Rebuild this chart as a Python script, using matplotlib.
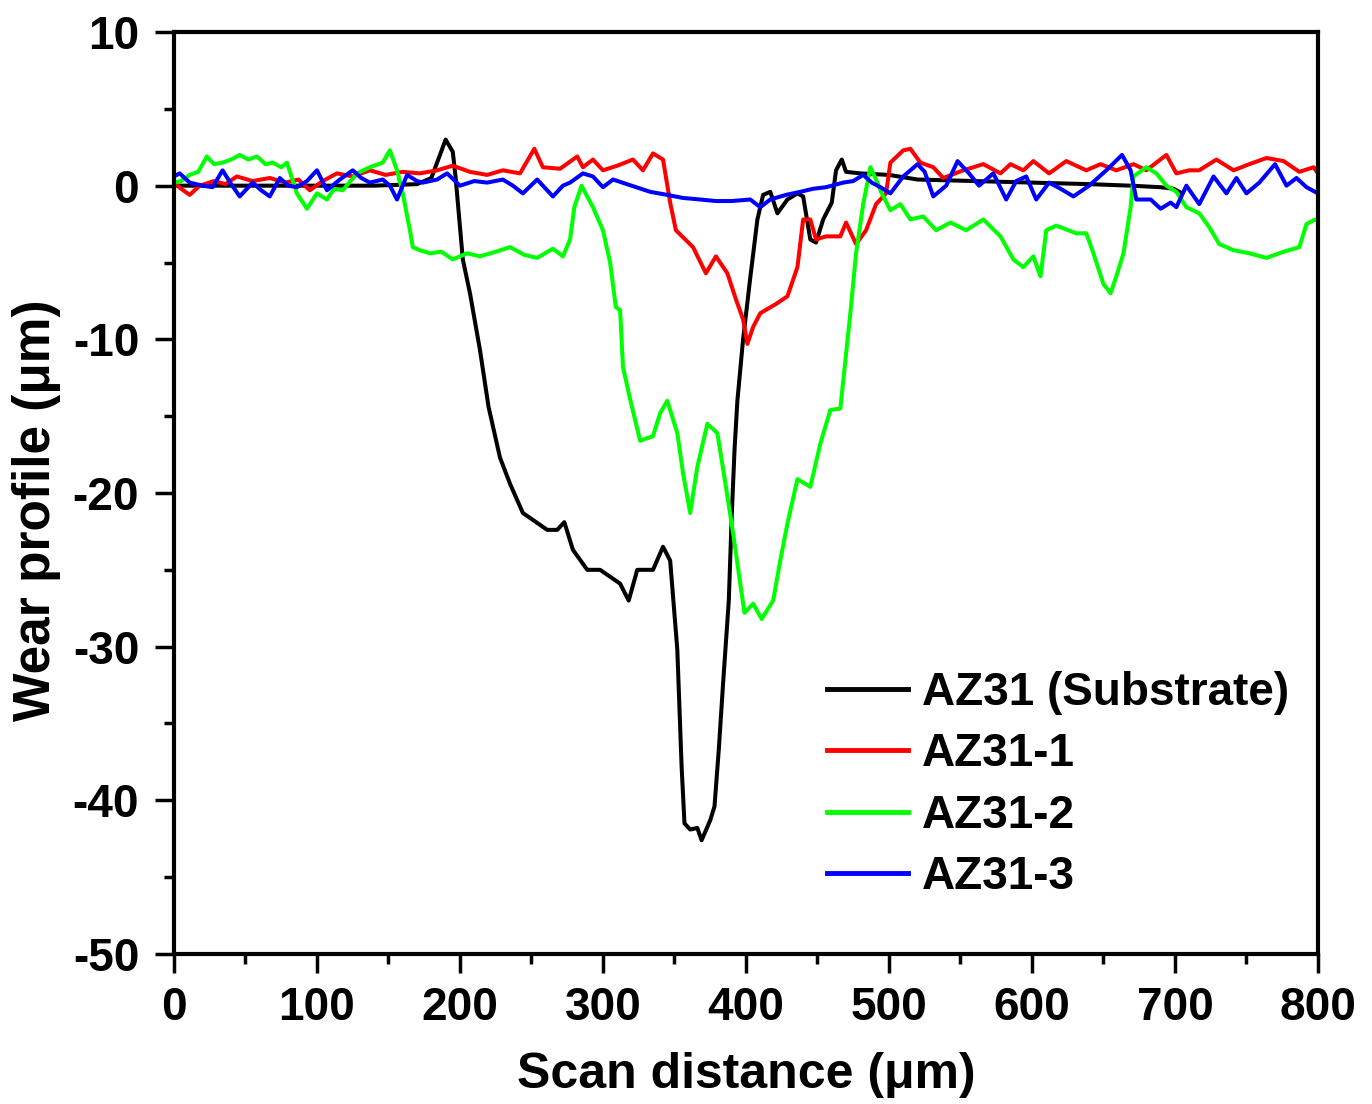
import matplotlib.pyplot as plt
import numpy
from matplotlib.ticker import MultipleLocator

# AZ31 (Substrate)
sub_x = [0, 20, 50, 80, 110, 140, 170, 180, 186, 190, 195, 197, 202, 207, 214, 220, 228, 235,
         244, 261, 268, 273, 279, 289, 298, 312, 318, 324, 335, 342, 347, 352, 355, 357, 361,
         366, 369, 375, 378, 381, 384, 388, 390, 392, 394, 398, 403, 408, 412, 417, 422, 429,
         436, 440, 445, 449, 454, 460, 463, 467, 470, 480, 500, 520, 560, 600, 640, 669, 690,
         699, 705]
sub_y = [0, 0, 0, 0, 0, 0, 0.1, 0.5, 2.0, 3.0, 2.2, 0.5, -4.8, -7.0, -10.7, -14.4, -17.7, -19.4,
         -21.3, -22.4, -22.4, -21.9, -23.7, -25.0, -25.0, -25.9, -27.0, -25.0, -25.0, -23.5, -24.4,
         -30.2, -37.8, -41.5, -41.9, -41.8, -42.6, -41.3, -40.4, -36.7, -32.4, -27.0, -21.6, -17.2,
         -14.0, -10.0, -6.0, -2.2, -0.6, -0.4, -1.8, -0.9, -0.5, -0.7, -3.5, -3.7, -2.2, -1.1, 1.0,
         1.7, 0.9, 0.8, 0.7, 0.4, 0.3, 0.2, 0.1, 0.0, -0.1, -0.2, -0.5]

# AZ31-1
az1_x = [0, 5, 11, 18, 28, 36, 44, 55, 67, 78, 87, 95, 104, 114, 125, 137, 148, 160, 172, 184,
         195, 207, 219, 230, 242, 252, 258, 270, 282, 286, 293, 300, 310, 321, 328, 335, 342, 347,
         351, 363, 372, 379, 387, 393, 398, 401, 405, 410, 421, 429, 436, 440, 445, 449, 456, 466,
         470, 477, 484, 491, 498, 501, 510, 515, 522, 531, 538, 552, 566, 578, 585, 594, 601, 612,
         624, 638, 648, 659, 671, 680, 694, 701, 710, 717, 729, 741, 752, 764, 776, 787, 797, 800]
az1_y = [0.2, -0.2, -0.6, 0.0, 0.3, 0.1, 0.6, 0.3, 0.5, 0.2, 0.4, -0.3, 0.3, 0.8, 0.6, 1.0, 0.7,
         0.9, 0.8, 1.0, 1.3, 0.9, 0.7, 1.0, 0.8, 2.4, 1.2, 1.1, 1.9, 1.2, 1.7, 1.0, 1.3, 1.7, 1.0,
         2.1, 1.7, -1.1, -2.9, -4.0, -5.7, -4.6, -5.7, -7.4, -8.7, -10.3, -9.2, -8.3, -7.7, -7.2,
         -5.3, -2.2, -2.2, -3.5, -3.3, -3.3, -2.4, -3.8, -2.9, -1.2, -0.5, 1.5, 2.3, 2.4, 1.5, 1.2,
         0.5, 1.0, 1.4, 0.8, 1.4, 1.0, 1.6, 0.8, 1.6, 1.0, 1.4, 1.0, 1.4, 1.0, 2.0, 0.8, 1.0, 1.0,
         1.7, 1.0, 1.4, 1.8, 1.6, 0.9, 1.2, 0.8]

# AZ31-2
az2_x = [0, 5, 11, 17, 23, 28, 34, 40, 46, 52, 58, 64, 69, 75, 79, 86, 93, 100, 107, 112, 118,
         128, 137, 146, 151, 156, 160, 165, 167, 172, 179, 187, 195, 205, 214, 225, 235, 245, 254,
         265, 272, 277, 280, 285, 293, 300, 305, 309, 312, 314, 319, 326, 335, 340, 345, 352, 356,
         361, 366, 373, 380, 385, 391, 396, 399, 405, 411, 419, 424, 429, 436, 445, 452, 459, 466,
         473, 477, 482, 487, 491, 495, 501, 508, 515, 524, 533, 543, 554, 566, 578, 587, 594, 601,
         606, 610, 617, 631, 638, 643, 650, 655, 659, 664, 669, 671, 680, 687, 694, 701, 708, 717,
         724, 731, 741, 752, 764, 776, 787, 792, 798, 800]
az2_y = [0.2, 0.3, 0.7, 0.9, 1.9, 1.4, 1.5, 1.7, 2.0, 1.7, 1.9, 1.4, 1.5, 1.2, 1.5, -0.5, -1.5,
         -0.5, -0.9, -0.2, -0.3, 0.8, 1.2, 1.5, 2.3, 1.0, -0.5, -2.9, -4.0, -4.2, -4.4, -4.3, -4.8,
         -4.4, -4.6, -4.3, -4.0, -4.5, -4.7, -4.1, -4.6, -3.5, -1.4, 0.0, -1.4, -2.9, -5.0, -7.9,
         -8.1, -11.8, -13.9, -16.6, -16.3, -14.8, -14.0, -16.1, -18.7, -21.3, -18.3, -15.5, -16.1,
         -19.0, -22.6, -25.9, -27.8, -27.2, -28.2, -27.0, -24.4, -22.0, -19.1, -19.6, -16.8, -14.6,
         -14.5, -8.3, -4.4, -1.2, 1.2, 0.4, -0.5, -1.6, -1.2, -2.2, -2.0, -2.9, -2.4, -2.9, -2.2,
         -3.3, -4.8, -5.3, -4.6, -5.9, -2.9, -2.6, -3.1, -3.1, -4.4, -6.4, -7.0, -5.9, -4.4, -1.4,
         0.6, 1.2, 0.8, 0.0, -0.4, -1.4, -1.8, -2.7, -3.8, -4.2, -4.4, -4.7, -4.3, -4.0, -2.5, -2.2,
         -2.3]

# AZ31-3
az3_x = [0, 4, 11, 20, 27, 34, 40, 46, 55, 61, 67, 74, 80, 86, 93, 100, 107, 116, 125, 131, 137,
         146, 151, 156, 163, 170, 174, 184, 191, 200, 210, 219, 230, 237, 244, 254, 265, 272, 277,
         286, 293, 300, 307, 320, 333, 345, 356, 368, 379, 390, 403, 410, 417, 428, 438, 447, 456,
         468, 475, 482, 488, 494, 501, 510, 520, 525, 531, 540, 548, 556, 563, 573, 582, 589, 596,
         603, 612, 620, 629, 640, 652, 663, 669, 673, 683, 690, 697, 701, 708, 717, 727, 736, 743,
         750, 759, 770, 778, 785, 792, 798, 800]
az3_y = [0.6, 0.8, 0.2, 0.0, -0.1, 1.0, 0.1, -0.7, 0.2, -0.3, -0.7, 0.5, 0.0, -0.1, 0.3, 1.0,
         -0.3, 0.4, 1.0, 0.5, 0.2, 0.4, 0.0, -0.9, 0.7, 0.3, 0.2, 0.4, 0.8, 0.0, 0.3, 0.2, 0.4, 0.0,
         -0.5, 0.4, -0.7, 0.0, 0.2, 0.8, 0.6, -0.1, 0.4, 0.0, -0.4, -0.6, -0.8, -0.9, -1.0, -1.0,
         -0.9, -1.4, -0.9, -0.6, -0.4, -0.2, -0.1, 0.2, 0.3, 0.7, 0.2, -0.1, -0.5, 0.6, 1.4, 0.9,
         -0.7, 0.0, 1.6, 0.8, 0.0, 0.8, -0.9, 0.3, 0.6, -0.9, 0.2, -0.2, -0.7, 0.0, 1.0, 2.0, 1.0,
         -0.9, -0.9, -1.5, -1.1, -1.4, 0.0, -1.2, 0.6, -0.5, 0.5, -0.5, 0.2, 1.4, 0.0, 0.5, -0.1,
         -0.4, -0.5]

labels = ["AZ31 (Substrate)", "AZ31-1", "AZ31-2", "AZ31-3"]
colors = ["black", "#ff0000", "#00ff00", "#0000ff"]

plt.rcParams['font.family'] = ['Liberation Sans', 'DejaVu Sans']
plt.rcParams['font.weight'] = 'bold'
plt.rcParams['axes.unicode_minus'] = False

fig = plt.figure(figsize=(13.72, 11.04), dpi=100)
ax = fig.add_axes([0.1268, 0.1359, 0.8338, 0.8351])

series = [(sub_x, sub_y), (az1_x, az1_y), (az2_x, az2_y), (az3_x, az3_y)]
for (xs, ys), lab, col in zip(series, labels, colors):
    ax.plot(numpy.array(xs), numpy.array(ys), color=col, lw=2.9, label=lab)

ax.set_xlim(0, 800)
ax.set_ylim(-50, 10)
ax.xaxis.set_major_locator(MultipleLocator(100))
ax.xaxis.set_minor_locator(MultipleLocator(50))
ax.yaxis.set_major_locator(MultipleLocator(10))
ax.yaxis.set_minor_locator(MultipleLocator(5))
ax.tick_params(which='major', direction='out', length=14, width=2.5, labelsize=33)
ax.tick_params(axis='x', which='major', pad=9)
ax.tick_params(axis='y', which='major', pad=11)
ax.tick_params(which='minor', direction='out', length=7, width=2.5)
for side in ax.spines.values():
    side.set_linewidth(3)

xl = ax.set_xlabel("Scan distance (μm)", fontsize=36, fontweight='bold')
yl = ax.set_ylabel("Wear profile (μm)", fontsize=37, fontweight='bold')
xl.set_va('baseline')
yl.set_va('baseline')
ax.xaxis.set_label_coords(0.5, -0.1453)
ax.yaxis.set_label_coords(-0.1084, 0.4816)

leg = ax.legend(loc='upper left', bbox_to_anchor=(0.571, 0.307), frameon=False, fontsize=33,
                handlelength=1.77, handletextpad=0.3, labelspacing=0.38, borderpad=0,
                borderaxespad=0)
for h in leg.get_lines():
    h.set_linewidth(3.5)

plt.savefig("out.png", dpi=100)
